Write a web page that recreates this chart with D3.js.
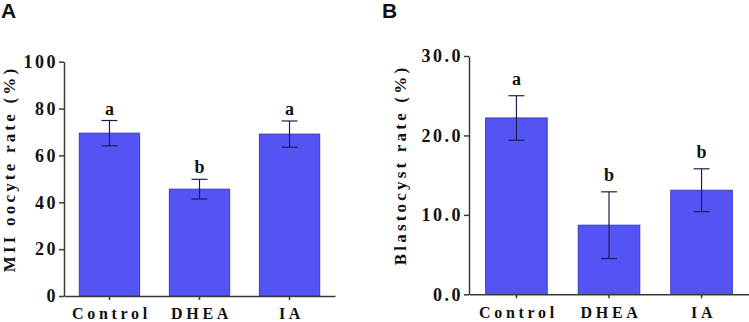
<!DOCTYPE html>
<html>
<head>
    <meta charset="UTF-8">
    <title></title>
    <style>
        body { margin: 0; background: #fff; }
        .axis path, .axis line { stroke: #3a3a3a; stroke-width: 1.5; }
        .axis text { font-family: "Liberation Serif", serif; font-weight: bold; fill: #111; }
    </style>
</head>
<body>
<script src="https://cdn.jsdelivr.net/npm/d3@7/dist/d3.min.js"></script>
<script>

    var width = 749, height = 322;

    // data
    var categories = ["Control", "DHEA", "IA"];

    var mIIRate = [69.5, 45.6, 69.1];
    var mIIErr = [5.4, 4.2, 5.6];
    var mIILetters = ["a", "b", "a"];
    var mIITicks = [0, 20, 40, 60, 80, 100];

    var blastRate = [22.2, 8.7, 13.1];
    var blastErr = [2.8, 4.2, 2.7];
    var blastLetters = ["a", "b", "b"];
    var blastTicks = [0, 10, 20, 30];

    var svg = d3.select("body").append("svg")
        .attr("width", width)
        .attr("height", height);

    // one panel = one bar chart
    function panel(opt) {
        var g = svg.append("g");

        var x = d3.scaleBand()
            .domain(categories)
            .range([opt.left, opt.right])
            .paddingInner(opt.pi)
            .paddingOuter(opt.po);

        var y = d3.scaleLinear()
            .domain([0, opt.max])
            .range([opt.bottom, opt.top]);

        var rows = categories.map(function (c, i) {
            return {cat: c, v: opt.values[i], e: opt.errs[i], lab: opt.letters[i]};
        });

        // bars
        g.selectAll("rect.bar")
            .data(rows)
            .join("rect")
            .attr("class", "bar")
            .attr("x", d => x(d.cat))
            .attr("y", d => y(d.v))
            .attr("width", x.bandwidth())
            .attr("height", d => y(0) - y(d.v))
            .attr("fill", "#5454f4")
            .attr("stroke", "#3c3cc0")
            .attr("stroke-width", 1);

        // error bars
        var eb = g.selectAll("g.err")
            .data(rows)
            .join("g")
            .attr("class", "err")
            .attr("stroke", "#1e1e55")
            .attr("stroke-width", 1.2);
        var cx = d => x(d.cat) + x.bandwidth() / 2;
        eb.append("line")
            .attr("x1", cx).attr("x2", cx)
            .attr("y1", d => y(d.v + d.e)).attr("y2", d => y(d.v - d.e));
        eb.append("line")
            .attr("x1", d => cx(d) - 8).attr("x2", d => cx(d) + 8)
            .attr("y1", d => y(d.v + d.e)).attr("y2", d => y(d.v + d.e));
        eb.append("line")
            .attr("x1", d => cx(d) - 8).attr("x2", d => cx(d) + 8)
            .attr("y1", d => y(d.v - d.e)).attr("y2", d => y(d.v - d.e));

        // significance letters
        g.selectAll("text.sig")
            .data(rows)
            .join("text")
            .attr("class", "sig")
            .attr("x", cx)
            .attr("y", d => y(d.v + d.e) - opt.sigGap)
            .attr("text-anchor", "middle")
            .style("font-family", "'Liberation Serif', serif")
            .style("font-weight", "bold")
            .style("font-size", "18px")
            .attr("fill", "#111")
            .text(d => d.lab);

        // axes
        var yAxis = d3.axisLeft(y)
            .tickValues(opt.ticks)
            .tickFormat(opt.fmt)
            .tickSize(5)
            .tickSizeOuter(0)
            .tickPadding(1);
        g.append("g")
            .attr("class", "axis")
            .attr("transform", "translate(" + opt.left + ",0)")
            .call(yAxis)
            .selectAll("text")
            .style("font-size", "18px")
            .style("letter-spacing", "2.5px");

        var xAxis = d3.axisBottom(x)
            .tickSize(4)
            .tickSizeOuter(0)
            .tickPadding(8);
        g.append("g")
            .attr("class", "axis")
            .attr("transform", "translate(0," + opt.bottom + ")")
            .call(xAxis)
            .selectAll("text")
            .style("font-size", "16px")
            .style("letter-spacing", "3.7px")
            .attr("dx", "2px");

        // axis title
        g.append("text")
            .attr("transform", "translate(" + opt.titleX + "," + opt.titleY + ") rotate(-90)")
            .attr("text-anchor", "middle")
            .style("font-family", "'Liberation Serif', serif")
            .style("font-weight", "bold")
            .style("font-size", "17px")
            .style("letter-spacing", "3.2px")
            .attr("fill", "#111")
            .text(opt.title);

        // panel letter
        g.append("text")
            .attr("x", opt.tagX)
            .attr("y", 18)
            .style("font-family", "'Liberation Sans', sans-serif")
            .style("font-weight", "bold")
            .style("font-size", "21px")
            .attr("fill", "#111")
            .text(opt.tag);
    }

    panel({
        left: 64, right: 335, top: 61.7, bottom: 296, pi: 0.33, po: 0.17,
        max: 100, values: mIIRate, errs: mIIErr, letters: mIILetters,
        ticks: mIITicks, fmt: d3.format("d"), sigGap: 6,
        title: "MII oocyte rate (%)", titleX: 15, titleY: 169,
        tag: "A", tagX: 1
    });

    panel({
        left: 469, right: 749, top: 56, bottom: 294.3, pi: 0.335, po: 0.18,
        max: 30, values: blastRate, errs: blastErr, letters: blastLetters,
        ticks: blastTicks, fmt: d3.format(".1f"), sigGap: 11,
        title: "Blastocyst rate (%)", titleX: 406, titleY: 165,
        tag: "B", tagX: 382
    });

</script>
</body>
</html>
